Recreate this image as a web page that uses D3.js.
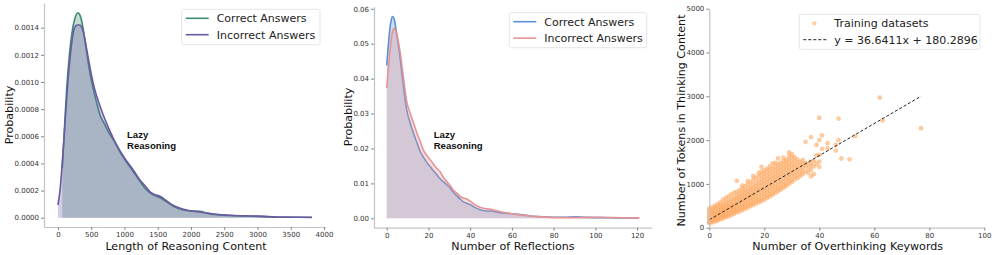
<!DOCTYPE html>
<html>
<head>
<meta charset="utf-8">
<script src="https://cdn.jsdelivr.net/npm/d3@7"></script>
<style>
body { margin: 0; background: #fff; }
svg { display: block; }
text { font-family: "DejaVu Sans", sans-serif; }
</style>
</head>
<body>
<svg id="chart" width="996" height="255"></svg>
<script>
// ---- panel 1: length of reasoning content (KDE)
var lenCorrectX = [65, 100, 131, 170, 210, 250, 300, 340, 380, 431, 480, 531, 580, 632, 700, 757, 850, 932, 1030, 1133, 1230, 1334, 1430, 1534, 1650, 1750, 1885, 2000, 2136, 2250, 2387, 2600, 2888, 3100, 3389, 3600, 3820];
var lenCorrectY = [0.000364, 0.00068, 0.00095, 0.00119, 0.00136, 0.00146, 0.00151, 0.00148, 0.00139, 0.00122, 0.00107, 0.00095, 0.00085, 0.000757, 0.00069, 0.000634, 0.00056, 0.000486, 0.00041, 0.000339, 0.00027, 0.000204, 0.000168, 0.000147, 0.000112, 0.00008, 0.000057, 0.00005, 0.000047, 0.000032, 0.000022, 0.000016, 0.000012, 0.000008, 0.000003, 0.000003, 0.000002];
var lenIncorrectX = [0, 30, 55, 90, 131, 170, 210, 250, 290, 330, 380, 456, 500, 556, 620, 681, 780, 882, 1000, 1133, 1230, 1334, 1384, 1460, 1534, 1584, 1700, 1885, 2000, 2136, 2387, 2600, 2888, 3100, 3389, 3600, 3820];
var lenIncorrectY = [0.0000936, 0.0002, 0.00034, 0.00058, 0.00088, 0.00112, 0.0013, 0.0014, 0.00142, 0.00142, 0.00137, 0.001175, 0.00106, 0.00094, 0.00084, 0.000757, 0.00064, 0.000536, 0.00044, 0.000351, 0.00028, 0.000221, 0.00019, 0.00017, 0.000158, 0.000143, 0.0001, 0.000062, 0.00005, 0.000042, 0.000025, 0.000018, 0.000013, 0.00001, 0.000004, 0.000003, 0.000003];
var lenTicksX = [0, 500, 1000, 1500, 2000, 2500, 3000, 3500, 4000];
var lenTicksY = [0, 0.0002, 0.0004, 0.0006, 0.0008, 0.0010, 0.0012, 0.0014];

// ---- panel 2: number of reflections
var refX = [0, 1, 2, 2.8, 3.6, 4.6, 5.6, 6.5, 7.4, 8.5, 9.6, 11, 12.8, 14.4, 16, 17.6, 19.2, 20.8, 22.4, 24, 25.6, 27.2, 28.8, 30.4, 32, 33.6, 35.2, 36.8, 38.4, 40, 42, 45, 48, 50, 52, 55, 58, 60, 65, 70, 75, 80, 85, 90, 95, 100, 105, 110, 115, 121];
var refCorrectY = [0.0438, 0.0512, 0.0563, 0.0578, 0.0570, 0.0535, 0.0495, 0.0455, 0.041, 0.0355, 0.031, 0.0278, 0.0244, 0.0218, 0.0192, 0.0175, 0.016, 0.0148, 0.0136, 0.0125, 0.0113, 0.0104, 0.0096, 0.0087, 0.0074, 0.0064, 0.0055, 0.0047, 0.0043, 0.0039, 0.0032, 0.0024, 0.0021, 0.0021, 0.0019, 0.0015, 0.0014, 0.0013, 0.0010, 0.0006, 0.0004, 0.0003, 0.0003, 0.0004, 0.0003, 0.0002, 0.0002, 0.0001, 0.0001, 0.0001];
var refIncorrectY = [0.0373, 0.0445, 0.0505, 0.0535, 0.0544, 0.0532, 0.0505, 0.0472, 0.0432, 0.038, 0.0334, 0.0305, 0.0274, 0.0245, 0.0221, 0.0195, 0.018, 0.0168, 0.0155, 0.0143, 0.0133, 0.0117, 0.0105, 0.0094, 0.008, 0.0072, 0.0063, 0.0058, 0.0055, 0.0049, 0.004, 0.0031, 0.0027, 0.0026, 0.0022, 0.0018, 0.0015, 0.0013, 0.0009, 0.0006, 0.0004, 0.0002, 0.0002, 0.0002, 0.0002, 0.0003, 0.0002, 0.0002, 0.0001, 0.0001];
var refTicksX = [0, 20, 40, 60, 80, 100, 120];
var refTicksY = [0, 0.01, 0.02, 0.03, 0.04, 0.05, 0.06];

// ---- panel 3: keywords vs tokens, [keyword count, token counts]
var keywordTokens = [
  [0, [100, 130, 160, 200, 240, 290, 340, 400, 440]],
  [1, [120, 150, 190, 230, 270, 320, 370, 420, 470]],
  [2, [140, 170, 210, 260, 300, 340, 390, 450, 500]],
  [3, [160, 190, 240, 280, 320, 370, 420, 480, 540]],
  [4, [190, 220, 260, 310, 350, 400, 450, 510, 580]],
  [5, [210, 250, 290, 340, 390, 440, 490, 550, 640]],
  [6, [240, 270, 320, 370, 420, 470, 520, 590, 680]],
  [7, [260, 300, 350, 400, 450, 500, 560, 620, 720]],
  [8, [290, 330, 380, 430, 480, 530, 590, 660, 760]],
  [9, [320, 360, 410, 460, 510, 570, 630, 700, 800]],
  [10, [350, 390, 440, 500, 550, 610, 670, 740, 820, 1070]],
  [11, [370, 420, 470, 530, 590, 650, 710, 780, 860]],
  [12, [400, 450, 510, 570, 630, 690, 750, 820, 900, 960]],
  [13, [430, 480, 540, 600, 660, 720, 790, 860, 950]],
  [14, [460, 510, 570, 640, 700, 760, 830, 900, 990, 1060]],
  [15, [490, 540, 610, 670, 740, 800, 870, 940, 1040]],
  [16, [520, 570, 640, 710, 770, 840, 910, 990, 1100, 1180]],
  [17, [550, 600, 670, 740, 810, 880, 950, 1030, 1140]],
  [18, [580, 630, 700, 780, 850, 920, 990, 1070, 1180, 1250]],
  [19, [610, 660, 740, 810, 880, 960, 1030, 1110, 1200, 1280, 1390]],
  [20, [640, 700, 770, 850, 920, 1000, 1070, 1150, 1230, 1310]],
  [21, [680, 730, 810, 880, 960, 1040, 1110, 1190, 1270, 1350]],
  [22, [710, 770, 850, 920, 1000, 1080, 1150, 1230, 1320, 1400]],
  [23, [750, 800, 880, 960, 1040, 1120, 1190, 1270, 1360, 1470]],
  [24, [790, 850, 930, 1000, 1080, 1160, 1240, 1320, 1400, 1480]],
  [25, [830, 880, 960, 1040, 1120, 1200, 1280, 1360, 1450, 1580]],
  [26, [870, 920, 1000, 1080, 1160, 1240, 1320, 1400, 1480]],
  [27, [910, 960, 1040, 1120, 1200, 1280, 1360, 1440, 1520, 1600]],
  [28, [950, 1000, 1090, 1170, 1250, 1330, 1410, 1490, 1550]],
  [29, [1000, 1060, 1140, 1220, 1300, 1380, 1460, 1560, 1640, 1720]],
  [30, [1040, 1100, 1190, 1270, 1350, 1430, 1510, 1600, 1680]],
  [31, [1100, 1180, 1260, 1350, 1430, 1520, 1610]],
  [32, [1130, 1200, 1300, 1390, 1470, 1560]],
  [33, [1180, 1250, 1340, 1430, 1500]],
  [34, [1220, 1300, 1390, 1470, 1550]],
  [35, [1280, 1400, 1480, 1960]],
  [36, [1250, 1350, 1450]],
  [37, [1170, 1320, 1420, 1500, 2070]],
  [38, [1220, 1400, 1520]],
  [39, [1460, 1650, 1890]],
  [40, [1390, 1510, 1660, 2000, 2510]],
  [41, [1800, 2110]],
  [43, [1810, 1930]],
  [46, [1760, 1890]],
  [47, [2000, 2490]],
  [48, [1580]],
  [51, [1560]],
  [53, [2090]],
  [62, [2970]],
  [63, [2450]],
  [77, [2270]]
];
var fitSlope = 36.6411, fitIntercept = 180.2896;
var kwTicksX = [0, 20, 40, 60, 80, 100];
var kwTicksY = [0, 1000, 2000, 3000, 4000, 5000];

var svg = d3.select("#chart");

function zip(xs, ys) {
  return xs.map(function (d, i) { return [d, ys[i]]; });
}

function drawAxes(x, y, xticks, yticks, yfmt) {
  var xAxis = d3.axisBottom(x).tickValues(xticks).tickFormat(d3.format("d")).tickSize(3).tickSizeOuter(0).tickPadding(2);
  var yAxis = d3.axisLeft(y).tickValues(yticks).tickFormat(yfmt).tickSize(3).tickSizeOuter(0).tickPadding(2);
  var gx = svg.append("g").attr("transform", "translate(0," + y.range()[0] + ")").call(xAxis);
  var gy = svg.append("g").attr("transform", "translate(" + x.range()[0] + ",0)").call(yAxis);
  [gx, gy].forEach(function (g) {
    g.select(".domain").attr("stroke", "#c4c4c4").attr("stroke-width", 1.2);
    g.selectAll(".tick line").attr("stroke", "#888");
    g.selectAll(".tick text").attr("fill", "#333").style("font-size", "7px").style("font-family", "DejaVu Sans");
  });
}

function axisLabels(cx, xlabel, ylx, cy, ylabel) {
  svg.append("text").attr("x", cx).attr("y", 249.5).attr("text-anchor", "middle")
    .style("font-size", "11.1px").attr("fill", "#111").text(xlabel);
  svg.append("text").attr("transform", "translate(" + ylx + "," + cy + ") rotate(-90)")
    .attr("text-anchor", "middle").attr("dy", "0.35em")
    .style("font-size", "11.1px").attr("fill", "#111").text(ylabel);
}

function legend(x0, y0, w, h, items) {
  var g = svg.append("g");
  g.append("rect").attr("x", x0).attr("y", y0).attr("width", w).attr("height", h)
    .attr("rx", 2).attr("fill", "#fff").attr("stroke", "#dedede").attr("stroke-width", 0.8);
  items.forEach(function (it, i) {
    var yy = y0 + 9 + i * 16.4;
    if (it.dot) {
      g.append("circle").attr("cx", x0 + 15).attr("cy", yy).attr("r", 2.1).attr("fill", it.color).attr("opacity", 0.6);
    } else {
      g.append("line").attr("x1", x0 + 4).attr("x2", x0 + 27).attr("y1", yy).attr("y2", yy)
        .attr("stroke", it.color).attr("stroke-width", it.dash ? 1 : 1.6)
        .attr("stroke-dasharray", it.dash ? "3,2" : null);
    }
    g.append("text").attr("x", x0 + 35).attr("y", yy).attr("dy", "0.36em")
      .style("font-size", "11px").attr("fill", "#222").text(it.label);
  });
}

function lazy(x0) {
  var t = svg.append("text").attr("x", x0).attr("y", 137.5)
    .style("font-family", "Liberation Sans, Arial, sans-serif").style("font-weight", "bold")
    .style("font-size", "9.6px").attr("fill", "#111");
  t.append("tspan").attr("x", x0).text("Lazy");
  t.append("tspan").attr("x", x0).attr("dy", 11.6).text("Reasoning");
}

function kde(x, y, data, color) {
  var area = d3.area().x(function (d) { return x(d[0]); }).y0(y(0)).y1(function (d) { return y(d[1]); })
    .curve(d3.curveMonotoneX);
  var line = d3.line().x(function (d) { return x(d[0]); }).y(function (d) { return y(d[1]); })
    .curve(d3.curveMonotoneX);
  svg.append("path").datum(data).attr("d", area).attr("fill", color).attr("fill-opacity", 0.3);
  svg.append("path").datum(data).attr("d", line).attr("fill", "none").attr("stroke", color).attr("stroke-width", 1.6);
}

// ---- panel 1
var green = "#3f8c73", purple = "#6a5aa3";
var x1 = d3.scaleLinear().domain([-210, 4015]).range([44, 325]);
var y1 = d3.scaleLinear().domain([-0.0000685, 0.001582]).range([227, 3]);
kde(x1, y1, zip(lenCorrectX, lenCorrectY), green);
kde(x1, y1, zip(lenIncorrectX, lenIncorrectY), purple);
drawAxes(x1, y1, lenTicksX, lenTicksY, d3.format(".4f"));
axisLabels(186, "Length of Reasoning Content", 9.5, 115, "Probability");
lazy(127);
legend(181.7, 9.3, 138.3, 35.4, [
  { label: "Correct Answers", color: green },
  { label: "Incorrect Answers", color: purple }
]);

// ---- panel 2
var blue = "#5b90d4", red = "#e59496";
var x2 = d3.scaleLinear().domain([-6.1, 127]).range([374, 651.7]);
var y2 = d3.scaleLinear().domain([-0.0027, 0.0606]).range([227.7, 6.7]);
kde(x2, y2, zip(refX, refCorrectY), blue);
kde(x2, y2, zip(refX, refIncorrectY), red);
drawAxes(x2, y2, refTicksX, refTicksY, d3.format(".2f"));
axisLabels(513, "Number of Reflections", 348, 117, "Probability");
lazy(433.7);
legend(509.3, 12.7, 137.4, 35, [
  { label: "Correct Answers", color: blue },
  { label: "Incorrect Answers", color: red }
]);

// ---- panel 3
var orange = "#fdab66";
var x3 = d3.scaleLinear().domain([0, 100]).range([709.3, 984.3]);
var y3 = d3.scaleLinear().domain([0, 5000]).range([227.7, 8.7]);
var pts = [];
keywordTokens.forEach(function (c) {
  c[1].forEach(function (v) { pts.push([c[0], v]); });
});
svg.append("g").selectAll("circle").data(pts).join("circle")
  .attr("cx", function (d) { return x3(d[0]); })
  .attr("cy", function (d) { return y3(d[1]); })
  .attr("r", 2.4).attr("fill", orange).attr("opacity", 0.62);
var kwMax = d3.max(pts, function (d) { return d[0]; });
svg.append("line")
  .attr("x1", x3(0)).attr("y1", y3(fitIntercept))
  .attr("x2", x3(kwMax)).attr("y2", y3(fitSlope * kwMax + fitIntercept))
  .attr("stroke", "#222").attr("stroke-width", 1).attr("stroke-dasharray", "3,2");
drawAxes(x3, y3, kwTicksX, kwTicksY, d3.format("d"));
axisLabels(847.7, "Number of Overthinking Keywords", 681, 120.5, "Number of Tokens in Thinking Content");
legend(799.3, 14.3, 180.7, 35, [
  { label: "Training datasets", color: orange, dot: true },
  { label: "y = " + fitSlope.toFixed(4) + "x + " + fitIntercept.toFixed(4), color: "#222", dash: true }
]);
</script>
</body>
</html>
